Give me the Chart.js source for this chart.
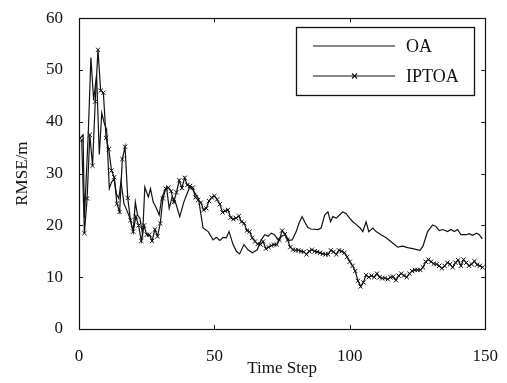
<!DOCTYPE html>
<html>
<head>
<meta charset="utf-8">
<script src="https://cdn.jsdelivr.net/npm/chart.js@4.4.1/dist/chart.umd.min.js"></script>
<style>
  html, body { margin: 0; padding: 0; background: #fff; }
  canvas { display: block; }
</style>
</head>
<body>
<canvas id="grafica" width="507" height="383"></canvas>
<script>
/* ---------- datos ---------- */
const SERIES = ['OA', 'IPTOA'];

// OA: vértices de la línea continua (paso, RMSE)
const oaX = [0, 1.5, 2, 3.4, 4.4, 5.4, 6.5, 7.5, 8.4, 9.3, 10.2, 11.2, 12, 13, 13.8, 14.7, 15.5, 16.6, 17.6, 18.8,
  20, 20.8, 21.6, 22.5, 23.5, 24.3, 25.6, 26.4, 27.4, 28.6, 29.6, 30.5, 31.4, 32.3, 33.3, 34.4, 35.6, 37.2, 38.7, 39.9,
  40.9, 42.1, 44.1, 45.8, 47.7, 49.5, 50.7, 52, 53.2, 54.4, 55.4, 56.9, 58.1, 59.3, 60.9, 62.4, 64, 65.8, 67.3, 68.6,
  69.8, 71, 72.2, 73.5, 74.7, 76.2, 77.5, 78.7, 80.2, 81.2, 82.4, 83.3, 84.5, 85.7, 88.2, 89.4, 90.7, 91.9, 92.9, 93.7,
  95, 96.2, 97.4, 98.6, 99.9, 101.1, 102.3, 103.8, 104.8, 106, 107, 108.5, 109.7, 111.5, 113.4, 115.8, 117.7, 119.5,
  121.4, 123.2, 125.9, 127, 128.7, 130.6, 131.8, 133, 134.3, 136.1, 137.3, 138.6, 139.8, 141, 142.9, 144.1, 145.3,
  146.8, 147.8, 148.9];
const oaY = [36.6, 37.5, 21.4, 37.5, 52.4, 44.2, 49.0, 33.7, 41.7, 39.8, 38.5, 27.1, 28.3, 29.0, 26.1, 25.2, 28.5, 24.2, 23.0, 21.4,
  18.8, 24.5, 22.0, 21.4, 18.2, 27.4, 25.5, 27.1, 24.5, 23.3, 22.0, 25.2, 26.4, 27.4, 23.3, 25.5, 24.5, 21.7, 24.5, 26.1,
  27.4, 26.8, 25.2, 19.5, 18.8, 17.2, 17.7, 17.1, 17.7, 17.6, 18.8, 16.3, 15.0, 14.5, 16.3, 15.3, 14.7, 15.3, 17.2, 18.2,
  17.9, 18.5, 18.2, 17.2, 17.9, 18.2, 17.1, 17.2, 18.8, 20.4, 21.7, 20.7, 19.6, 19.3, 19.2, 19.5, 22.0, 22.6, 20.7, 21.7,
  21.4, 22.0, 22.6, 22.3, 21.4, 20.7, 20.2, 19.5, 18.8, 20.7, 18.8, 19.5, 18.8, 18.2, 17.6, 16.6, 15.8, 16.0,
  15.7, 15.5, 15.2, 16.0, 18.8, 20.1, 19.8, 19.0, 19.2, 18.8, 19.2, 18.8, 19.2, 18.2, 18.2, 18.4, 18.1,
  18.5, 18.2, 17.4];

// IPTOA: un valor por paso, pasos 1..149
const iptoaY = [
  36.5, 18.5, 25.2, 37.5, 31.5, 43.9, 53.9, 46.0, 45.6, 36.9,
  34.7, 30.6, 29.3, 24.2, 22.6, 32.8, 35.2, 25.3, 21.0, 18.8,
  21.7, 20.0, 17.0, 20.0, 18.2, 18.2, 17.0, 19.2, 17.9, 20.4,
  25.2, 27.1, 27.3, 26.6, 24.5, 26.4, 28.7, 27.2, 29.2, 27.8,
  27.6, 27.3, 25.4, 24.9, 24.4, 23.0, 23.3, 24.7, 25.4, 25.7,
  25.0, 24.1, 22.5, 22.8, 23.0, 21.5, 21.2, 21.4, 21.8, 20.7,
  20.4, 19.0, 18.8, 17.6, 16.9, 16.4, 16.3, 16.9, 15.5, 15.8,
  16.1, 16.3, 16.3, 17.2, 19.0, 18.3, 17.2, 15.8, 15.3, 15.2,
  15.2, 15.0, 14.9, 14.4, 15.0, 15.3, 15.0, 14.9, 14.7, 14.5,
  14.4, 14.4, 15.2, 14.9, 14.4, 15.2, 15.0, 14.7, 13.9, 13.0,
  12.2, 11.2, 9.3, 8.2, 9.0, 10.4, 10.0, 10.3, 10.0, 10.7,
  10.0, 9.8, 9.8, 9.6, 10.0, 10.1, 9.4, 10.3, 10.7, 10.3,
  10.0, 10.7, 11.2, 11.4, 11.4, 11.4, 11.9, 13.0, 13.4, 13.0,
  12.6, 12.5, 12.2, 11.7, 12.2, 12.8, 12.5, 11.9, 12.8, 13.3,
  12.2, 13.4, 12.8, 12.2, 12.5, 13.1, 12.4, 12.2, 11.9
];

const xTicks = [0, 50, 100, 150];
const yTicks = [0, 10, 20, 30, 40, 50, 60];

/* ---------- estilo ---------- */
const FONT = 'Liberation Serif';
const INK  = '#111';

const oaPts    = oaX.map((x, i) => ({ x, y: oaY[i] }));
const iptoaPts = iptoaY.map((y, i) => ({ x: i + 1, y }));

// caja, ticks hacia dentro y leyenda al estilo MATLAB
const marcoMatlab = {
  id: 'marcoMatlab',
  afterDatasetsDraw(chart) {
    const { ctx, chartArea: a, scales: { x, y } } = chart;
    const L = 4;
    ctx.save();
    ctx.strokeStyle = INK;
    ctx.lineWidth = 1;
    ctx.beginPath();
    xTicks.forEach(v => {
      const px = Math.round(x.getPixelForValue(v)) + 0.5;
      ctx.moveTo(px, a.bottom); ctx.lineTo(px, a.bottom - L);
      ctx.moveTo(px, a.top);    ctx.lineTo(px, a.top + L);
    });
    yTicks.forEach(v => {
      const py = Math.round(y.getPixelForValue(v)) + 0.5;
      ctx.moveTo(a.left, py);  ctx.lineTo(a.left + L, py);
      ctx.moveTo(a.right, py); ctx.lineTo(a.right - L, py);
    });
    ctx.stroke();
    ctx.lineWidth = 1.2;
    ctx.strokeRect(Math.round(a.left) + 0.5, Math.round(a.top) + 0.5,
                   Math.round(a.right - a.left), Math.round(a.bottom - a.top));

    // leyenda
    const bx = 296.5, by = 27.5, bw = 178, bh = 68;
    ctx.fillStyle = '#fff';
    ctx.fillRect(bx, by, bw, bh);
    ctx.lineWidth = 1.3;
    ctx.strokeRect(bx, by, bw, bh);
    ctx.lineWidth = 1.1;
    const rows = [46, 76];
    ctx.font = '18px "' + FONT + '"';
    ctx.textBaseline = 'middle';
    ctx.fillStyle = INK;
    rows.forEach((ry, i) => {
      ctx.beginPath();
      ctx.moveTo(313, ry); ctx.lineTo(395, ry);
      ctx.stroke();
      if (i === 1) {
        ctx.beginPath();
        ctx.moveTo(352, ry - 2.5); ctx.lineTo(357, ry + 2.5);
        ctx.moveTo(352, ry + 2.5); ctx.lineTo(357, ry - 2.5);
        ctx.stroke();
      }
      ctx.fillText(SERIES[i], 406, ry + 1);
    });
    ctx.restore();
  }
};

new Chart(document.getElementById('grafica'), {
  type: 'line',
  data: {
    datasets: [
      {
        label: SERIES[0],
        data: oaPts,
        borderColor: INK,
        borderWidth: 1.2,
        pointRadius: 0,
        tension: 0,
        fill: false,
      },
      {
        label: SERIES[1],
        data: iptoaPts,
        borderColor: INK,
        borderWidth: 1.2,
        pointStyle: 'crossRot',
        pointRadius: 3,
        pointBorderWidth: 1,
        pointBorderColor: INK,
        tension: 0,
        fill: false,
      }
    ]
  },
  options: {
    responsive: false,
    animation: false,
    layout: { padding: { top: 14, right: 21, left: 0, bottom: 0 } },
    plugins: { legend: { display: false }, tooltip: { enabled: false } },
    scales: {
      x: {
        type: 'linear',
        min: 0, max: 150,
        afterBuildTicks: s => { s.ticks = xTicks.map(v => ({ value: v })); },
        afterFit: s => { s.height = 54; },
        grid: { display: false },
        border: { display: false },
        ticks: { color: INK, padding: 9, font: { family: FONT, size: 17 } },
        title: { display: true, text: 'Time Step', color: INK,
                 padding: { top: 0, bottom: 4 }, font: { family: FONT, size: 17 } }
      },
      y: {
        min: 0, max: 60,
        afterBuildTicks: s => { s.ticks = yTicks.map(v => ({ value: v })); },
        afterFit: s => { s.width = 79; },
        grid: { display: false },
        border: { display: false },
        ticks: { color: INK, padding: 8, font: { family: FONT, size: 17 } },
        title: { display: true, text: 'RMSE/m', color: INK,
                 padding: { top: 12, bottom: 0 }, font: { family: FONT, size: 17 } }
      }
    }
  },
  plugins: [marcoMatlab]
});
</script>
</body>
</html>
